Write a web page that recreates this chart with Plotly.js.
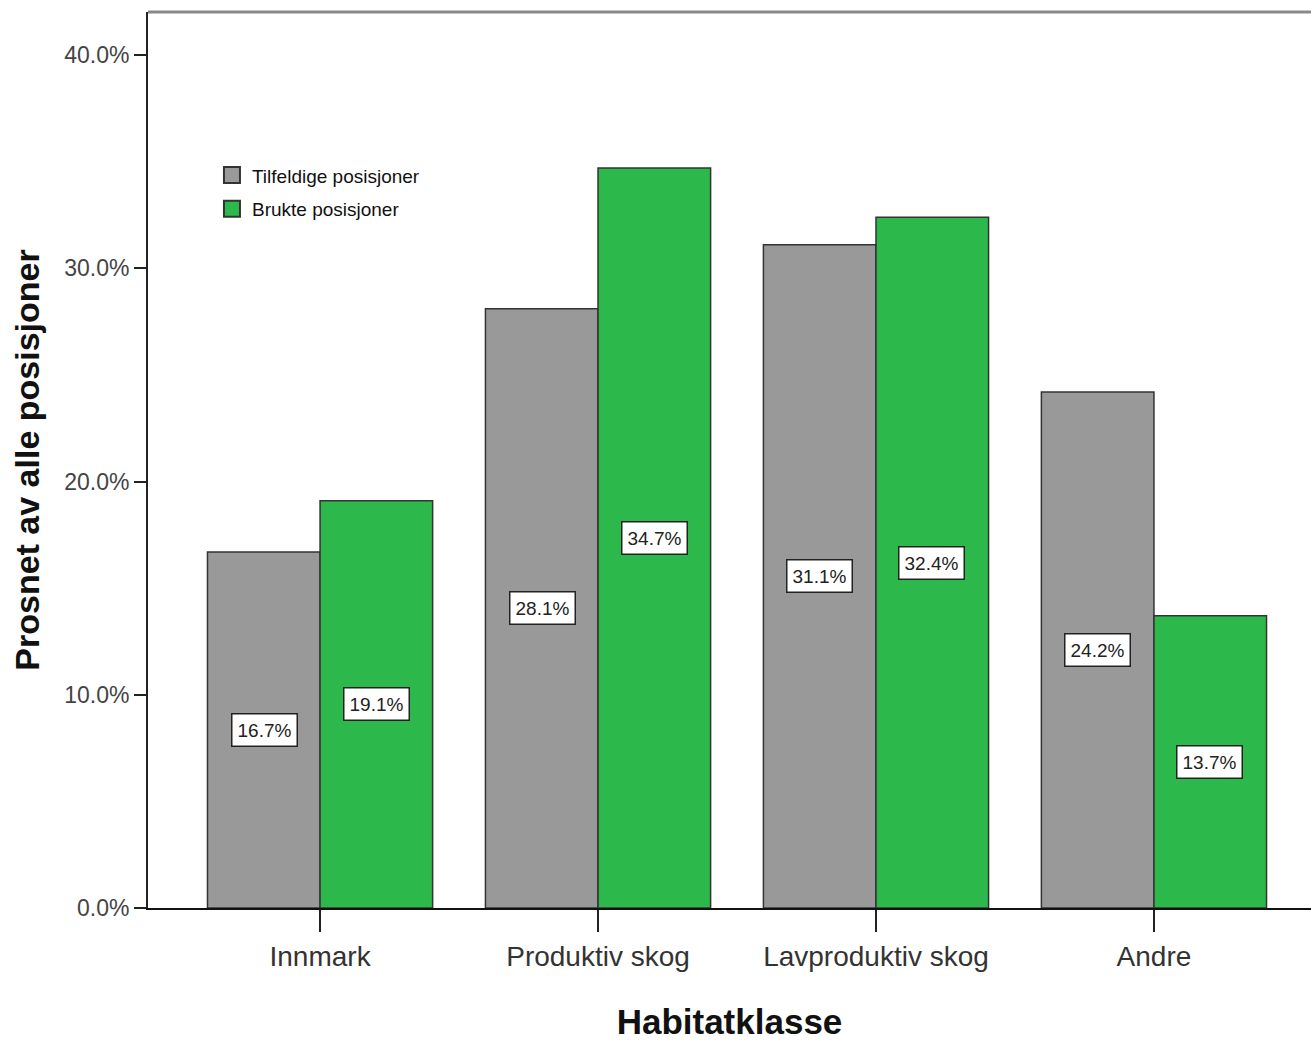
<!DOCTYPE html>
<html>
<head>
<meta charset="utf-8">
<script src="https://cdn.plot.ly/plotly-3.0.1.min.js"></script>
<style>html,body{margin:0;padding:0;background:#fff;}#chart{width:1311px;height:1041px;}</style>
</head>
<body>
<div id="chart"></div>
<script>
const categories = ["Innmark", "Produktiv skog", "Lavproduktiv skog", "Andre"];
const seriesNames = ["Tilfeldige posisjoner", "Brukte posisjoner"];
const tilfeldige = [16.7, 28.1, 31.1, 24.2];
const brukte = [19.1, 34.7, 32.4, 13.7];
const yTickVals = [0, 10, 20, 30, 40];
const yTickText = ["0.0%", "10.0%", "20.0%", "30.0%", "40.0%"];

const narrow = "Liberation Sans Narrow, Arial Narrow, Liberation Sans, sans-serif";
const colors = ["#999999", "#2db84b"];
const series = [tilfeldige, brukte];

const traces = series.map((vals, i) => ({
  type: "bar",
  name: seriesNames[i],
  x: categories,
  y: vals,
  marker: { color: colors[i], line: { color: "#333333", width: 1.5 } },
  showlegend: false,
  hoverinfo: "skip"
}));

// legend proxies (no data drawn)
series.forEach((vals, i) => {
  traces.push({
    type: "scatter", mode: "markers", name: seriesNames[i],
    x: [null], y: [null], legendgroup: "g" + i,
    marker: { symbol: "square", size: 18, color: colors[i], line: { color: "#333333", width: 2 } },
    showlegend: true
  });
});

const annotations = [];
const halfBarPx = 56;
series.forEach((vals, i) => {
  vals.forEach((v, j) => {
    annotations.push({
      x: categories[j], y: v / 2, xref: "x", yref: "y",
      xshift: i === 0 ? -halfBarPx : halfBarPx,
      text: v.toFixed(1) + "%", showarrow: false,
      bgcolor: "#ffffff", bordercolor: "#222222", borderwidth: 1.5, borderpad: 5,
      font: { family: narrow, size: 19, color: "#222" }
    });
  });
});

const layout = {
  width: 1311, height: 1041,
  margin: { l: 148, r: 0, t: 12, b: 133 },
  paper_bgcolor: "#fff", plot_bgcolor: "#fff",
  barmode: "group", bargap: 0.19, bargroupgap: 0,
  showlegend: true,
  legend: {
    x: 0.055, y: 0.839, xanchor: "left", yanchor: "top",
    font: { family: narrow, size: 19, color: "#111" },
    bgcolor: "rgba(0,0,0,0)", itemwidth: 30, tracegroupgap: 6,
    itemclick: false
  },
  xaxis: {
    type: "category", range: [-0.619, 3.565],
    showline: true, linecolor: "#111", linewidth: 2,
    ticks: "outside", ticklen: 22, tickwidth: 2, tickcolor: "#222",
    tickfont: { family: narrow, size: 28, color: "#333" },
    showgrid: false, zeroline: false,
    title: { text: "Habitatklasse", font: { family: narrow, size: 35, color: "#111", weight: "bold" }, standoff: 39 }
  },
  yaxis: {
    range: [0, 42.02],
    tickvals: yTickVals, ticktext: yTickText,
    showline: true, linecolor: "#222", linewidth: 2,
    ticks: "outside", ticklen: 12, tickwidth: 2, tickcolor: "#222",
    tickfont: { family: narrow, size: 23, color: "#444" },
    showgrid: false, zeroline: false,
    title: { text: "Prosnet av alle posisjoner", font: { family: "Liberation Sans, Arial, sans-serif", size: 34, color: "#111", weight: "bold" }, standoff: 14 }
  },
  shapes: [{
    type: "line", xref: "paper", yref: "paper", x0: 0, x1: 1, y0: 1, y1: 1,
    line: { color: "#888888", width: 3 }
  }],
  annotations: annotations
};

Plotly.newPlot("chart", traces, layout, { displayModeBar: false, staticPlot: true });
</script>
</body>
</html>
